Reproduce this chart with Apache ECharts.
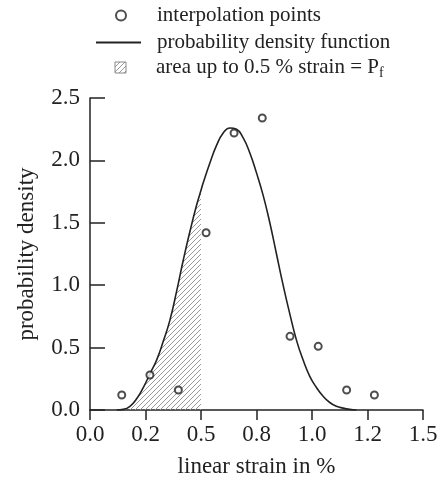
<!DOCTYPE html>
<html>
<head>
<meta charset="utf-8">
<script src="https://cdn.jsdelivr.net/npm/echarts@6/dist/echarts.min.js"></script>
<style>
  html, body { margin: 0; padding: 0; background: #fff; }
  #chart { width: 440px; height: 479px; }
</style>
</head>
<body>
<div id="chart"></div>
<script>
// 插值点
const pointX = [0.143, 0.27, 0.398, 0.523, 0.649, 0.776, 0.901, 1.028, 1.156, 1.281];
const pointY = [0.12, 0.28, 0.16, 1.42, 2.22, 2.34, 0.59, 0.51, 0.16, 0.12];

// 概率密度曲线
const curveX = [0.12, 0.15, 0.18, 0.21, 0.24, 0.27, 0.30, 0.33, 0.36, 0.39, 0.42, 0.45, 0.48, 0.50,
  0.51, 0.54, 0.57, 0.60, 0.63, 0.66, 0.69, 0.72, 0.75, 0.78, 0.81, 0.84, 0.87, 0.90, 0.93, 0.96,
  0.99, 1.02, 1.05, 1.08, 1.11, 1.14, 1.17, 1.20];
const curveY = [0, 0.005, 0.03, 0.09, 0.18, 0.29, 0.40, 0.55, 0.72, 0.95, 1.20, 1.43, 1.64, 1.76,
  1.82, 1.98, 2.12, 2.22, 2.26, 2.25, 2.18, 2.06, 1.90, 1.72, 1.50, 1.25, 1.00, 0.77, 0.56, 0.40,
  0.27, 0.18, 0.11, 0.06, 0.03, 0.015, 0.005, 0];

// 阴影区域上限
const areaLimit = 0.5;

// 刻度标签
const xTickLabels = ['0.0', '0.2', '0.5', '0.8', '1.0', '1.2', '1.5'];
const yTickLabels = ['0.0', '0.5', '1.0', '1.5', '2.0', '2.5'];

const names = ['interpolation points', 'probability density function', 'area up to 0.5 % strain = Pf'];

const font = 'Liberation Serif';
const ink = '#222';

// 斜线填充
function makeHatch() {
  const c = document.createElement('canvas');
  c.width = 5;
  c.height = 5;
  const ctx = c.getContext('2d');
  ctx.strokeStyle = '#999';
  ctx.lineWidth = 1;
  ctx.beginPath();
  ctx.moveTo(-1, 6); ctx.lineTo(6, -1);
  ctx.moveTo(-1, 1); ctx.lineTo(1, -1);
  ctx.moveTo(4, 6); ctx.lineTo(6, 4);
  ctx.stroke();
  return { image: c, repeat: 'repeat' };
}
const hatch = makeHatch();

const points = pointX.map((x, i) => [x, pointY[i]]);
const curve = curveX.map((x, i) => [x, curveY[i]]);
const area = curve.filter(p => p[0] <= areaLimit);

const chart = echarts.init(document.getElementById('chart'));

const legendText = {
  fontFamily: font,
  fontSize: 21,
  color: ink,
  lineHeight: 20
};

chart.setOption({
  animation: false,
  backgroundColor: '#fff',
  legend: [{
    data: [names[0]],
    left: 110,
    top: 0,
    itemWidth: 10,
    itemHeight: 10,
    textStyle: Object.assign({ padding: [0, 0, 0, 26] }, legendText)
  }, {
    data: [{ name: names[1], itemStyle: { opacity: 0 } }],
    left: 90,
    top: 27,
    itemWidth: 45,
    itemHeight: 10,
    textStyle: Object.assign({ padding: [0, 0, 0, 11] }, legendText)
  }, {
    data: [{
      name: names[2],
      icon: 'rect',
      itemStyle: { color: hatch, borderColor: '#888', borderWidth: 1 }
    }],
    left: 109.5,
    top: 52,
    itemWidth: 11,
    itemHeight: 11,
    formatter: () => '{a|area up to 0.5 % strain = P}{s|f}',
    textStyle: Object.assign({
      padding: [0, 0, 0, 25],
      rich: {
        a: { fontFamily: font, fontSize: 21, color: ink, lineHeight: 20 },
        s: { fontFamily: font, fontSize: 14, color: ink, lineHeight: 14, verticalAlign: 'bottom', padding: [0, 0, -3, 0] }
      }
    }, legendText)
  }],
  grid: {
    left: 90,
    right: 17,
    top: 98,
    bottom: 69,
    outerBoundsMode: 'none'
  },
  xAxis: {
    type: 'value',
    min: 0,
    max: 1.5,
    interval: 0.25,
    name: 'linear strain in %',
    nameLocation: 'middle',
    nameGap: 45,
    nameTextStyle: { fontFamily: font, fontSize: 23, color: ink },
    axisLine: { lineStyle: { color: ink, width: 1.5 } },
    axisTick: { inside: false, length: 10, lineStyle: { color: ink, width: 1.5 } },
    axisLabel: {
      margin: 13,
      fontFamily: font,
      fontSize: 23,
      color: ink,
      formatter: v => xTickLabels[Math.round(v / 0.25)]
    },
    splitLine: { show: false }
  },
  yAxis: {
    type: 'value',
    min: 0,
    max: 2.5,
    interval: 0.5,
    name: 'probability density',
    nameLocation: 'middle',
    nameGap: 52,
    nameTextStyle: { fontFamily: font, fontSize: 23, color: ink },
    axisLine: { show: true, lineStyle: { color: ink, width: 1.5 } },
    axisTick: { show: true, inside: true, length: 15, lineStyle: { color: ink, width: 1.5 } },
    axisLabel: {
      margin: 10,
      fontFamily: font,
      fontSize: 23,
      color: ink,
      formatter: v => yTickLabels[Math.round(v / 0.5)]
    },
    splitLine: { show: false }
  },
  series: [{
    name: names[2],
    type: 'line',
    data: area,
    smooth: true,
    symbol: 'none',
    lineStyle: { width: 0, color: '#888' },
    itemStyle: { color: '#888' },
    areaStyle: { color: hatch, opacity: 1 },
    z: 1
  }, {
    name: names[1],
    type: 'line',
    data: curve,
    smooth: true,
    symbol: 'none',
    lineStyle: { color: ink, width: 1.6 },
    itemStyle: { color: ink },
    z: 2
  }, {
    name: names[0],
    type: 'scatter',
    data: points,
    symbol: 'emptyCircle',
    symbolSize: 7,
    itemStyle: { color: ink, borderColor: ink, borderWidth: 1.3 },
    z: 3
  }]
});
</script>
</body>
</html>
